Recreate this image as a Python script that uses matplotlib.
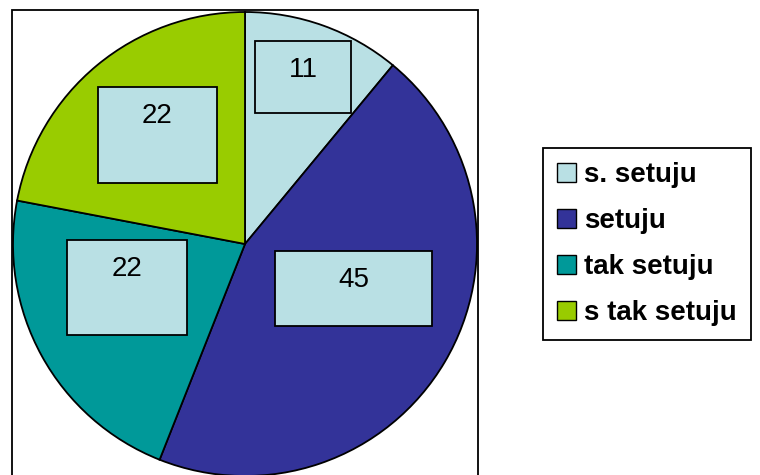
import numpy as np
import matplotlib
matplotlib.use("Agg")
import matplotlib.pyplot as plt
from matplotlib.patches import Rectangle, Patch

categories = ["s. setuju", "setuju", "tak setuju", "s tak setuju"]
values = [11, 45, 22, 22]
colors = ["#B9E0E4", "#333399", "#009999", "#99CC00"]

# layout (pixels / fractions)
W, H = 760, 475
R_PX = 232.0
CX, CY = 245.0, 244.0  # pie centre, pixels from top-left
label_dist = [0.762, 0.507, 0.542, 0.603]
label_shift = [0.65, 8.4, -8.6, -0.8]     # degrees relative to wedge middle
box_w = [96, 157, 120, 119]
box_h = [72, 75, 95, 96]
box_fill = "#B9E0E4"

plt.rcParams["font.family"] = ["Liberation Sans", "DejaVu Sans"]
fig = plt.figure(figsize=(W / 100, H / 100), dpi=100)

ax = fig.add_axes([(CX - R_PX) / W, (H - CY - R_PX) / H, 2 * R_PX / W, 2 * R_PX / H])
ax.set_xlim(-1, 1)
ax.set_ylim(-1, 1)
ax.axis("off")

wedges, _ = ax.pie(values, colors=colors, startangle=90, counterclock=False, radius=1,
                   wedgeprops=dict(edgecolor="black", linewidth=1.3), frame=False)
ax.set_xlim(-1, 1)
ax.set_ylim(-1, 1)

for w, v, d, s, bw, bh in zip(wedges, values, label_dist, label_shift, box_w, box_h):
    mid = np.deg2rad((w.theta1 + w.theta2) / 2 + s)
    bx, by = d * np.cos(mid), d * np.sin(mid)
    wd, hd = bw / R_PX, bh / R_PX
    ax.add_patch(Rectangle((bx - wd / 2, by - hd / 2), wd, hd, facecolor=box_fill,
                           edgecolor="black", linewidth=1.3, zorder=5, clip_on=False))
    ty = by + hd / 2 - 29 / R_PX
    ax.text(bx, ty, str(v), ha="center", va="center", fontsize=20, color="black", zorder=6)

# plot area frame
fig.patches.append(Rectangle((12 / W, -0.02), (478 - 12) / W, (H - 10) / H + 0.02,
                             transform=fig.transFigure, fill=False, edgecolor="black",
                             linewidth=1.3, zorder=10))

handles = [Patch(facecolor=c, edgecolor="black", linewidth=1.0) for c in colors]
leg = fig.legend(handles, categories, loc="upper left",
                 bbox_to_anchor=(543 / W, 1 - 148 / H), bbox_transform=fig.transFigure,
                 frameon=True, fancybox=False, edgecolor="black", framealpha=1,
                 prop=dict(weight="bold", size=20), handlelength=0.68, handleheight=0.68,
                 handletextpad=0.3, labelspacing=0.72, borderpad=0.5, borderaxespad=0)
leg.get_frame().set_linewidth(1.3)

fig.savefig("out.png", dpi=100)
